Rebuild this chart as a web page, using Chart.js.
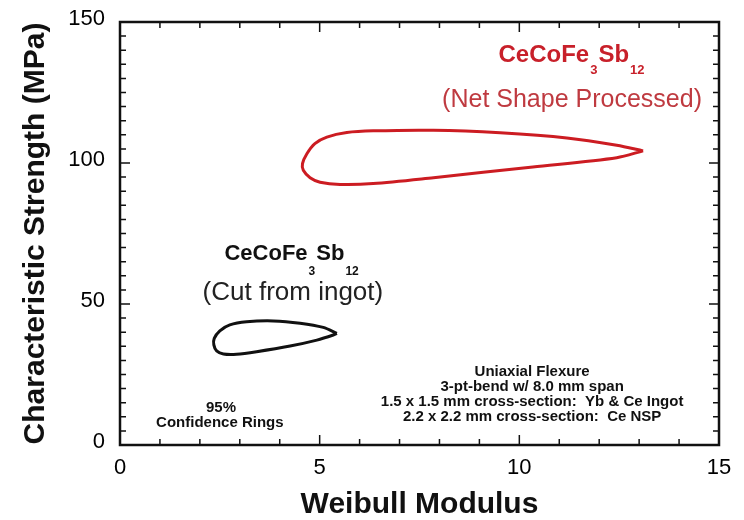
<!DOCTYPE html>
<html>
<head>
<meta charset="utf-8">
<script src="https://cdn.jsdelivr.net/npm/chart.js@4.4.1/dist/chart.umd.min.js"></script>
<style>
  html, body { margin: 0; padding: 0; background: #fff; }
  canvas { display: block; }
</style>
</head>
<body>
<canvas id="chart" width="744" height="520"></canvas>
<script>
// 95% confidence ring, net shape processed (red)
const nspModulus = [13.10, 12.44, 10.34, 7.85, 6.34, 5.51, 5.01, 4.76, 4.59, 4.57, 4.68, 4.88, 5.18, 5.68, 6.34, 7.85, 9.52, 11.19, 12.44, 13.10];
const nspStrength = [104.3, 101.9, 98.6, 94.8, 92.7, 92.4, 93.2, 94.8, 97.4, 99.8, 103.3, 106.9, 109.2, 110.8, 111.4, 111.6, 110.7, 108.9, 106.3, 104.3];

// 95% confidence ring, cut from ingot (black)
const ingotModulus = [5.43, 5.34, 4.93, 4.26, 3.42, 2.92, 2.59, 2.42, 2.35, 2.36, 2.50, 2.75, 3.17, 3.84, 4.51, 5.09, 5.43];
const ingotStrength = [39.6, 39.0, 37.2, 35.1, 33.1, 32.2, 32.3, 33.4, 35.5, 37.8, 40.5, 42.6, 43.7, 44.0, 43.2, 41.7, 39.6];

// axes
const xTicks = [0, 5, 10, 15];
const yTicks = [0, 50, 100, 150];
const xMinorStep = 1;
const yMinorStep = 5;

// notes
const blockLines = ['Uniaxial Flexure', '3-pt-bend w/ 8.0 mm span', '1.5 x 1.5 mm cross-section:  Yb & Ce Ingot', '2.2 x 2.2 mm cross-section:  Ce NSP'];
const ringLines = ['95%', 'Confidence Rings'];

const FONT = '"Liberation Sans", Arial, Helvetica, sans-serif';

function toPoints(xs, ys) {
    return xs.map(function (v, i) { return {x: v, y: ys[i]}; });
}

// draws a formula like CeCoFe3Sb12 with subscripts, centred on cx
function drawFormula(ctx, cx, baseY, parts, size, subSize, subDrop, color) {
    let widths = [];
    let total = 0;
    for (let i = 0; i < parts.length; i++) {
        ctx.font = 'bold ' + (parts[i].sub ? subSize : size) + 'px ' + FONT;
        let w = ctx.measureText(parts[i].t).width;
        widths.push(w);
        total += w + (parts[i].sub ? 2 : 0);
    }
    let x = cx - total / 2;
    ctx.fillStyle = color;
    ctx.textAlign = 'left';
    ctx.textBaseline = 'alphabetic';
    for (let i = 0; i < parts.length; i++) {
        ctx.font = 'bold ' + (parts[i].sub ? subSize : size) + 'px ' + FONT;
        if (parts[i].sub) {
            ctx.fillText(parts[i].t, x + 1, baseY + subDrop);
            x += widths[i] + 2;
        } else {
            ctx.fillText(parts[i].t, x, baseY);
            x += widths[i];
        }
    }
}

const formula = [{t: 'CeCoFe'}, {t: '3', sub: true}, {t: 'Sb'}, {t: '12', sub: true}];

const frameAndNotes = {
    id: 'frameAndNotes',
    afterDraw(chart) {
        const ctx = chart.ctx;
        const a = chart.chartArea;
        const xs = chart.scales.x;
        const ys = chart.scales.y;
        ctx.save();

        // inward ticks on all four sides
        ctx.strokeStyle = '#111';
        ctx.lineWidth = 1.5;
        ctx.beginPath();
        for (let v = xs.min; v <= xs.max; v += xMinorStep) {
            let px = xs.getPixelForValue(v);
            let len = xTicks.indexOf(v) >= 0 ? 10 : 6;
            ctx.moveTo(px, a.bottom); ctx.lineTo(px, a.bottom - len);
            ctx.moveTo(px, a.top); ctx.lineTo(px, a.top + len);
        }
        for (let v = ys.min; v <= ys.max; v += yMinorStep) {
            let py = ys.getPixelForValue(v);
            let len = yTicks.indexOf(v) >= 0 ? 10 : 6;
            ctx.moveTo(a.left, py); ctx.lineTo(a.left + len, py);
            ctx.moveTo(a.right, py); ctx.lineTo(a.right - len, py);
        }
        ctx.stroke();

        // frame
        ctx.lineWidth = 2.5;
        ctx.strokeRect(a.left, a.top, a.right - a.left, a.bottom - a.top);

        // red labels
        drawFormula(ctx, xs.getPixelForValue(11.32), ys.getPixelForValue(135.8), formula, 24, 13, 12, '#c8202a');
        ctx.font = '25px ' + FONT;
        ctx.fillStyle = '#bf3a40';
        ctx.textAlign = 'center';
        ctx.textBaseline = 'alphabetic';
        ctx.fillText('(Net Shape Processed)', xs.getPixelForValue(11.32), ys.getPixelForValue(119.9));

        // black labels
        drawFormula(ctx, xs.getPixelForValue(4.31), ys.getPixelForValue(65.6), formula, 22, 12, 15, '#111');
        ctx.font = '26px ' + FONT;
        ctx.fillStyle = '#222';
        ctx.textAlign = 'center';
        ctx.fillText('(Cut from ingot)', xs.getPixelForValue(4.33), ys.getPixelForValue(51.4));

        // small notes
        ctx.font = 'bold 15px ' + FONT;
        ctx.fillStyle = '#111';
        ctx.textBaseline = 'middle';
        ctx.fillText(ringLines[0], xs.getPixelForValue(2.53), ys.getPixelForValue(13.1));
        ctx.fillText(ringLines[1], xs.getPixelForValue(2.5), ys.getPixelForValue(7.8));
        let blockY = [25.9, 20.6, 15.2, 9.9];
        for (let i = 0; i < blockLines.length; i++) {
            ctx.fillText(blockLines[i], xs.getPixelForValue(10.32), ys.getPixelForValue(blockY[i]));
        }
        ctx.restore();
    }
};

new Chart(document.getElementById('chart'), {
    type: 'scatter',
    data: {
        datasets: [{
            label: 'Net Shape Processed',
            data: toPoints(nspModulus, nspStrength),
            showLine: true,
            borderColor: '#cc1c22',
            borderWidth: 3,
            pointRadius: 0,
            tension: 0.3,
            fill: false
        }, {
            label: 'Cut from ingot',
            data: toPoints(ingotModulus, ingotStrength),
            showLine: true,
            borderColor: '#111',
            borderWidth: 3,
            pointRadius: 0,
            tension: 0.3,
            fill: false
        }]
    },
    options: {
        responsive: false,
        animation: false,
        layout: {padding: {left: 0, right: 25, top: 22, bottom: 0}},
        plugins: {legend: {display: false}, tooltip: {enabled: false}},
        scales: {
            x: {
                type: 'linear',
                min: 0,
                max: 15,
                grid: {display: false},
                border: {display: false},
                ticks: {
                    stepSize: 5,
                    padding: 2,
                    color: '#000',
                    font: {family: FONT, size: 22}
                },
                title: {
                    display: true,
                    text: 'Weibull Modulus',
                    color: '#111',
                    font: {family: FONT, size: 30, weight: 'bold', lineHeight: 1},
                    padding: {top: 0, bottom: 0}
                },
                afterFit: function (scale) { scale.height = 75; }
            },
            y: {
                type: 'linear',
                min: 0,
                max: 150,
                grid: {display: false},
                border: {display: false},
                ticks: {
                    stepSize: 50,
                    padding: 7,
                    labelOffset: -3,
                    color: '#000',
                    font: {family: FONT, size: 22}
                },
                title: {
                    display: true,
                    text: 'Characteristic Strength (MPa)',
                    color: '#111',
                    font: {family: FONT, size: 30, weight: 'bold', lineHeight: 1},
                    padding: {top: 21, bottom: 0}
                },
                afterFit: function (scale) { scale.width = 120; }
            }
        }
    },
    plugins: [frameAndNotes]
});
</script>
</body>
</html>
